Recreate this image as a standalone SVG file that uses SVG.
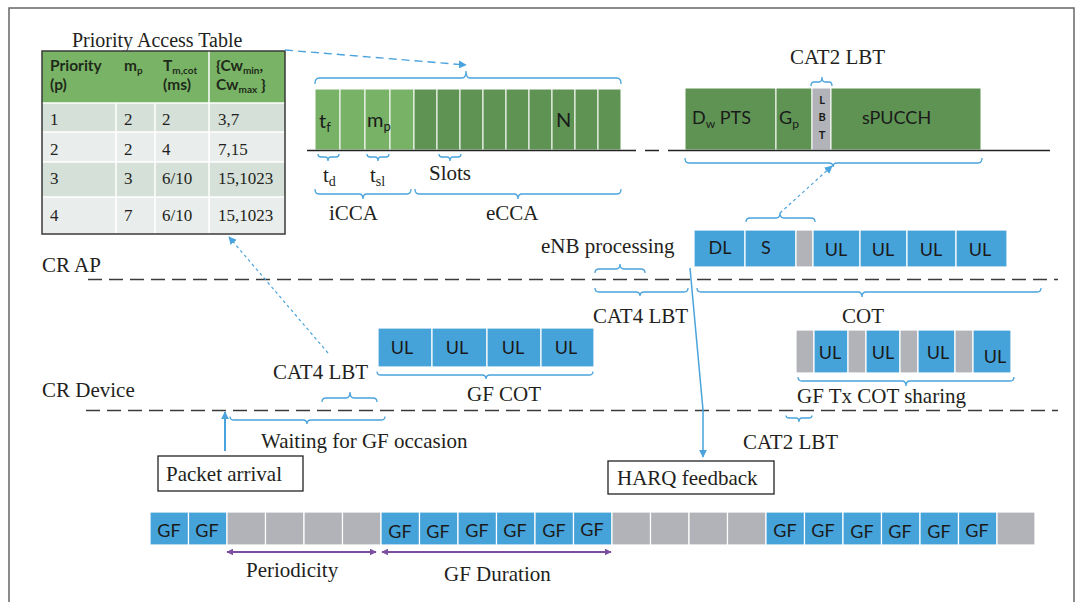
<svg xmlns="http://www.w3.org/2000/svg" width="1081" height="602" viewBox="0 0 1081 602">
<defs>
<style>
.lbl{font-family:"Liberation Serif","Times New Roman",serif;font-size:21px;fill:#231f20}
.ttl{font-family:"Liberation Serif","Times New Roman",serif;font-size:20px;fill:#231f20}
.cell{font-family:"Liberation Serif","Times New Roman",serif;font-size:17px;fill:#231f20}
.hdr{font-family:Lato,"Liberation Sans",sans-serif;font-size:15.5px;font-weight:bold;fill:#1f2a1a}
.blk{font-family:Lato,"Liberation Sans",sans-serif;font-size:18px;fill:#1a1a1a}
.big{font-family:Lato,"Liberation Sans",sans-serif;font-size:20px;fill:#1a1a1a}
.lbt{font-family:Lato,"Liberation Sans",sans-serif;font-size:11px;font-weight:bold;fill:#1a1a1a}
.brace{fill:none;stroke:#4aa3dc;stroke-width:1.3}
.lg{fill:#78b266;stroke:#fff;stroke-width:1}
.dg{fill:#5e9353;stroke:#fff;stroke-width:1}
.bl{fill:#46a3da;stroke:#fff;stroke-width:1.2}
.gr{fill:#b1b3b9;stroke:#fff;stroke-width:1.2}
.tl{fill:none;stroke:#3a3a3a;stroke-width:1.4;stroke-dasharray:14 7}
.box{fill:#fff;stroke:#222;stroke-width:1.3}
</style>
<marker id="ab" viewBox="0 0 10 10" refX="9" refY="5" markerWidth="8" markerHeight="8" markerUnits="userSpaceOnUse" orient="auto"><path d="M0,0 L10,5 L0,10 z" fill="#4aa3dc"/></marker>
<marker id="ap" viewBox="0 0 10 10" refX="9" refY="5" markerWidth="7" markerHeight="7" markerUnits="userSpaceOnUse" orient="auto-start-reverse"><path d="M0,0 L10,5 L0,10 z" fill="#7b4fa0"/></marker>
</defs>
<rect x="9" y="8" width="1065" height="610" fill="#fff" stroke="#666" stroke-width="1.5"/>

<g id="priority-table">
<text class="ttl" x="72" y="47">Priority Access Table</text>
<rect x="42" y="51" width="243" height="52" fill="#79b466"/>
<rect x="42" y="103" width="243" height="29" fill="#d5e0d8"/>
<rect x="42" y="132" width="243" height="30" fill="#e9edeb"/>
<rect x="42" y="162" width="243" height="35" fill="#d5e0d8"/>
<rect x="42" y="197" width="243" height="37" fill="#e9edeb"/>
<g stroke="#fff" stroke-width="1.5">
<line x1="42" y1="103" x2="285" y2="103"/><line x1="42" y1="132" x2="285" y2="132"/><line x1="42" y1="162" x2="285" y2="162"/><line x1="42" y1="197" x2="285" y2="197"/>
<line x1="116" y1="103" x2="116" y2="234"/><line x1="155" y1="103" x2="155" y2="234"/><line x1="209" y1="51" x2="209" y2="234"/>
</g>
<rect x="42" y="51" width="243" height="183" fill="none" stroke="#3a3a3a" stroke-width="1.5"/>
<text class="hdr" x="50" y="71">Priority</text><text class="hdr" x="50" y="90">(p)</text>
<text class="hdr" x="124" y="71">m<tspan dy="3" style="font-size:10px">p</tspan></text>
<text class="hdr" x="163" y="71">T<tspan dy="3" style="font-size:10px">m,cot</tspan></text><text class="hdr" x="163" y="90">(ms)</text>
<text class="hdr" x="216" y="71">{Cw<tspan dy="3" style="font-size:10px">min</tspan><tspan dy="-3">,</tspan></text>
<text class="hdr" x="216" y="90">Cw<tspan dy="3" style="font-size:10px">max</tspan><tspan dy="-3"> }</tspan></text>
<text class="cell" x="50" y="125">1</text><text class="cell" x="124" y="125">2</text><text class="cell" x="162" y="125">2</text><text class="cell" x="218" y="125">3,7</text>
<text class="cell" x="50" y="155">2</text><text class="cell" x="124" y="155">2</text><text class="cell" x="162" y="155">4</text><text class="cell" x="218" y="155">7,15</text>
<text class="cell" x="50" y="184">3</text><text class="cell" x="124" y="184">3</text><text class="cell" x="162" y="184">6/10</text><text class="cell" x="218" y="184">15,1023</text>
<text class="cell" x="50" y="221">4</text><text class="cell" x="124" y="221">7</text><text class="cell" x="162" y="221">6/10</text><text class="cell" x="218" y="221">15,1023</text>
</g>

<g id="cat4-slots">
<rect class="lg" x="315" y="89" width="25" height="61"/><rect class="lg" x="340" y="89" width="25" height="61"/><rect class="lg" x="365" y="89" width="25" height="61"/><rect class="lg" x="390" y="89" width="24" height="61"/>
<rect class="dg" x="414" y="89" width="23" height="61"/><rect class="dg" x="437" y="89" width="23" height="61"/><rect class="dg" x="460" y="89" width="23" height="61"/><rect class="dg" x="483" y="89" width="23" height="61"/><rect class="dg" x="506" y="89" width="23" height="61"/><rect class="dg" x="529" y="89" width="23" height="61"/><rect class="dg" x="552" y="89" width="23" height="61"/><rect class="dg" x="575" y="89" width="23" height="61"/><rect class="dg" x="598" y="89" width="23" height="61"/>
<line x1="307" y1="150.5" x2="636" y2="150.5" stroke="#222" stroke-width="1.5"/>
<line x1="645" y1="150.5" x2="659" y2="150.5" stroke="#222" stroke-width="1.5"/>
<text class="big" x="319" y="128">t<tspan dy="4" style="font-size:13px">f</tspan></text>
<text class="big" x="367" y="127">m<tspan dy="4" style="font-size:13px">p</tspan></text>
<text class="big" x="556" y="127">N</text>
<path class="brace" d="M315,84 Q315,78 319,78 L462,78 Q466,78 466,71 Q466,78 470,78 L617,78 Q621,78 621,84"/>
<path class="brace" d="M318,154 Q318,157 321,157 L325,157 Q328,157 328,161 Q328,157 331,157 L336,157 Q339,157 339,154"/>
<path class="brace" d="M367,154 Q367,157 370,157 L375,157 Q378,157 378,161 Q378,157 381,157 L386,157 Q389,157 389,154"/>
<path class="brace" d="M439,154 Q439,157 442,157 L447,157 Q450,157 450,161 Q450,157 453,157 L458,157 Q461,157 461,154"/>
<path class="brace" d="M315,189 Q315,194 319,194 L359,194 Q363,194 363,199 Q363,194 367,194 L407,194 Q411,194 411,189"/>
<path class="brace" d="M415,189 Q415,194 419,194 L514,194 Q518,194 518,199 Q518,194 522,194 L617,194 Q621,194 621,189"/>
<text class="lbl" x="323" y="182">t<tspan dy="4" style="font-size:14px">d</tspan></text>
<text class="lbl" x="370" y="182">t<tspan dy="4" style="font-size:14px">sl</tspan></text>
<text class="lbl" x="429" y="180">Slots</text>
<text class="lbl" x="329" y="220">iCCA</text>
<text class="lbl" x="486" y="220">eCCA</text>
</g>

<g id="cat2-frame">
<text class="lbl" x="790" y="64">CAT2 LBT</text>
<path class="brace" d="M811,86 Q811,82 814,82 L819,82 Q822,82 822,77 Q822,82 825,82 L829,82 Q832,82 832,86"/>
<rect class="dg" x="685" y="88" width="91" height="62"/>
<rect class="dg" x="776" y="88" width="36" height="62"/>
<rect x="812" y="88" width="19" height="62" fill="#b1b3b9" stroke="#fff" stroke-width="1"/>
<rect class="dg" x="831" y="88" width="150" height="62"/>
<line x1="668" y1="150.5" x2="1050" y2="150.5" stroke="#222" stroke-width="1.5"/>
<text class="blk" x="692" y="124">D<tspan dy="4" style="font-size:12px">w</tspan><tspan dy="-4"> PTS</tspan></text>
<text class="blk" x="779" y="124">G<tspan dy="4" style="font-size:12px">p</tspan></text>
<text class="blk" x="862" y="124">sPUCCH</text>
<g class="lbt" text-anchor="middle"><text x="822" y="104">L</text><text x="822" y="121">B</text><text x="822" y="139">T</text></g>
<path class="brace" d="M685,158 Q685,163 689,163 L829,163 Q833,163 833,167 Q833,163 837,163 L978,163 Q982,163 982,158"/>
</g>

<g id="cr-ap">
<text class="lbl" x="42" y="272">CR AP</text>
<line class="tl" x1="88" y1="279.5" x2="1058" y2="279.5"/>
<path class="brace" d="M746,222 Q746,218 750,218 L776,218 Q780,218 780,213 Q780,218 784,218 L811,218 Q815,218 815,222"/>
<rect class="bl" x="694" y="230" width="51" height="37"/>
<rect class="bl" x="745" y="230" width="51" height="37"/>
<rect class="gr" x="796" y="230" width="17" height="37"/>
<rect class="bl" x="813" y="230" width="47" height="37"/>
<rect class="bl" x="860" y="230" width="47" height="37"/>
<rect class="bl" x="907" y="230" width="49" height="37"/>
<rect class="bl" x="956" y="230" width="51" height="37"/>
<g class="blk" text-anchor="middle"><text x="720" y="254">DL</text><text x="766" y="254">S</text><text x="836" y="256">UL</text><text x="883" y="256">UL</text><text x="931" y="256">UL</text><text x="980" y="256">UL</text></g>
<text class="lbl" x="541" y="253">eNB processing</text>
<path class="brace" d="M595,273 Q595,269 599,269 L616,269 Q620,269 620,264 Q620,269 624,269 L641,269 Q645,269 645,273"/>
<path class="brace" d="M595,288 Q595,292 599,292 L636,292 Q640,292 640,296 Q640,292 644,292 L684,292 Q688,292 688,288"/>
<text class="lbl" x="593" y="323">CAT4 LBT</text>
<path class="brace" d="M697,288 Q697,292 701,292 L858,292 Q862,292 862,297 Q862,292 866,292 L1037,292 Q1041,292 1041,288"/>
<text class="lbl" x="842" y="323">COT</text>
</g>

<g id="cr-device">
<text class="lbl" x="42" y="397">CR Device</text>
<line class="tl" x1="86" y1="410.5" x2="1058" y2="410.5"/>
<rect class="bl" x="378" y="328" width="54" height="39"/>
<rect class="bl" x="432" y="328" width="55" height="39"/>
<rect class="bl" x="487" y="328" width="54" height="39"/>
<rect class="bl" x="541" y="328" width="53" height="39"/>
<g class="blk" text-anchor="middle"><text x="402" y="354">UL</text><text x="457" y="354">UL</text><text x="513" y="354">UL</text><text x="566" y="354">UL</text></g>
<path class="brace" d="M377,371.5 Q377,375 381,375 L482,375 Q486,375 486,379 Q486,375 490,375 L589,375 Q593,375 593,371.5"/>
<text class="lbl" x="467" y="401">GF COT</text>
<text class="lbl" x="273" y="379">CAT4 LBT</text>
<path class="brace" d="M322,402 Q322,398 326,398 L346,398 Q350,398 350,392 Q350,398 354,398 L373,398 Q377,398 377,402"/>
<path class="brace" d="M230,416.5 Q230,420 234,420 L303,420 Q307,420 307,424 Q307,420 311,420 L381,420 Q385,420 385,416.5"/>
<text class="lbl" x="261" y="448">Waiting for GF occasion</text>
<rect class="gr" x="796" y="330" width="18" height="43"/>
<rect class="bl" x="814" y="330" width="34" height="43"/>
<rect class="gr" x="848" y="330" width="18" height="43"/>
<rect class="bl" x="866" y="330" width="34" height="43"/>
<rect class="gr" x="900" y="330" width="18" height="43"/>
<rect class="bl" x="918" y="330" width="37" height="43"/>
<rect class="gr" x="955" y="330" width="18" height="43"/>
<rect class="bl" x="973" y="330" width="38" height="43"/>
<g class="blk" text-anchor="middle"><text x="830" y="359">UL</text><text x="883" y="359">UL</text><text x="938" y="359">UL</text><text x="995" y="363">UL</text></g>
<path class="brace" d="M798,377 Q798,381 802,381 L902,381 Q906,381 906,386 Q906,381 910,381 L1010,381 Q1014,381 1014,377"/>
<text class="lbl" x="797" y="403">GF Tx COT sharing</text>
<path class="brace" d="M786,415.5 Q786,418 789,418 L796,418 Q799,418 799,422 Q799,418 802,418 L809,418 Q812,418 812,415.5"/>
<text class="lbl" x="743" y="449">CAT2 LBT</text>
</g>

<g id="packet-arrival">
<rect class="box" x="158" y="456" width="145" height="35"/>
<text class="lbl" x="166" y="481">Packet arrival</text>
</g>
<g id="harq-feedback">
<rect class="box" x="608" y="461" width="166" height="33"/>
<text class="lbl" x="617" y="485">HARQ feedback</text>
</g>

<g id="gf-timeline">
<g class="bl"><rect x="150" y="512" width="38.5" height="33"/><rect x="188.5" y="512" width="38.5" height="33"/></g>
<g class="gr"><rect x="227" y="512" width="38.5" height="33"/><rect x="265.5" y="512" width="38.5" height="33"/><rect x="304" y="512" width="38.5" height="33"/><rect x="342.5" y="512" width="38.5" height="33"/></g>
<g class="bl"><rect x="381" y="512" width="38.5" height="33"/><rect x="419.5" y="512" width="38.5" height="33"/><rect x="458" y="512" width="38.5" height="33"/><rect x="496.5" y="512" width="38.5" height="33"/><rect x="535" y="512" width="38.5" height="33"/><rect x="573.5" y="512" width="38.5" height="33"/></g>
<g class="gr"><rect x="612" y="512" width="38.5" height="33"/><rect x="650.5" y="512" width="38.5" height="33"/><rect x="689" y="512" width="38.5" height="33"/><rect x="727.5" y="512" width="38.5" height="33"/></g>
<g class="bl"><rect x="766" y="512" width="38.5" height="33"/><rect x="804.5" y="512" width="38.5" height="33"/><rect x="843" y="512" width="38.5" height="33"/><rect x="881.5" y="512" width="38.5" height="33"/><rect x="920" y="512" width="38.5" height="33"/><rect x="958.5" y="512" width="38.5" height="33"/></g>
<rect class="gr" x="997" y="512" width="38" height="33"/>
<g class="blk" text-anchor="middle">
<text x="169" y="537">GF</text><text x="207" y="537">GF</text>
<text x="400" y="538">GF</text><text x="438" y="538">GF</text><text x="477" y="537">GF</text><text x="515" y="537">GF</text><text x="554" y="537">GF</text><text x="592" y="536">GF</text>
<text x="785" y="537">GF</text><text x="823" y="537">GF</text><text x="862" y="538">GF</text><text x="900" y="538">GF</text><text x="939" y="538">GF</text><text x="977" y="537">GF</text>
</g>
<text class="lbl" x="246" y="577">Periodicity</text>
<text class="lbl" x="444" y="581">GF Duration</text>
</g>

<g id="connectors">
<line x1="285" y1="50" x2="466" y2="65" stroke="#4aa3dc" stroke-width="1.4" stroke-dasharray="8 5" marker-end="url(#ab)"/>
<line x1="328" y1="353" x2="229" y2="237" stroke="#4aa3dc" stroke-width="1.2" stroke-dasharray="3 3" marker-end="url(#ab)"/>
<line x1="780" y1="213" x2="832" y2="166" stroke="#4aa3dc" stroke-width="1.2" stroke-dasharray="3 3" marker-end="url(#ab)"/>
<path d="M690,268 L703,410 L703,457" fill="none" stroke="#4aa3dc" stroke-width="1.5" marker-end="url(#ab)"/>
<line x1="225" y1="451" x2="225" y2="412" stroke="#4aa3dc" stroke-width="2" marker-end="url(#ab)"/>
<line x1="227" y1="552" x2="376" y2="552" stroke="#7b4fa0" stroke-width="2" marker-start="url(#ap)" marker-end="url(#ap)"/>
<line x1="382" y1="552" x2="611" y2="552" stroke="#7b4fa0" stroke-width="2" marker-start="url(#ap)" marker-end="url(#ap)"/>
</g>
</svg>
